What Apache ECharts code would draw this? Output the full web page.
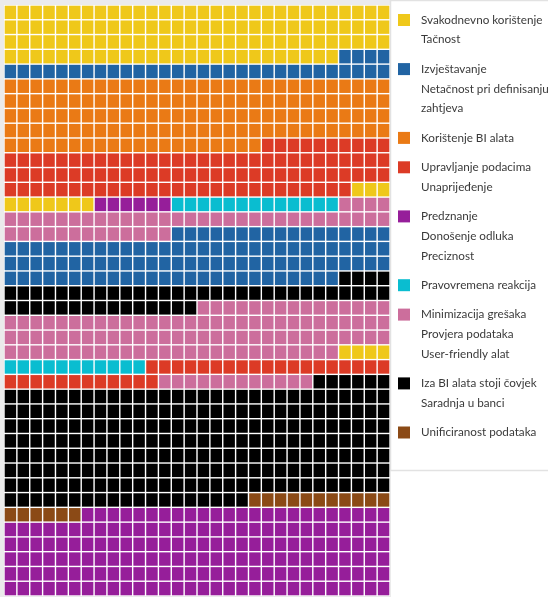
<!DOCTYPE html>
<html>
<head>
<meta charset="utf-8">
<script src="https://cdn.jsdelivr.net/npm/echarts@6/dist/echarts.min.js"></script>
<style>
  html, body { margin: 0; padding: 0; background: #ffffff; }
  #chart { width: 548px; height: 597px; }
</style>
</head>
<body>
<div id="chart"></div>
<script>
// Waffle grid: 30 columns x 40 rows, filled row by row from the top-left.
const COLS = 30;
const ROWS = 40;

// Legend groups (one colour each); several answers share a colour.
const groupNames = [
  ['Svakodnevno korištenje', 'Tačnost'],
  ['Izvještavanje', 'Netačnost pri definisanju', 'zahtjeva'],
  ['Korištenje BI alata'],
  ['Upravljanje podacima', 'Unaprijeđenje'],
  ['Predznanje', 'Donošenje odluka', 'Preciznost'],
  ['Pravovremena reakcija'],
  ['Minimizacija grešaka', 'Provjera podataka', 'User-friendly alat'],
  ['Iza BI alata stoji čovjek', 'Saradnja u banci'],
  ['Unificiranost podataka']
];
const groupColors = ['#efc81a', '#2164a3', '#ea7a15', '#dc3b26', '#961e9a', '#0abdd0', '#cc6e9c', '#000000', '#8b4a16'];

// Consecutive runs of cells in fill order: which group, and how many cells.
const segmentGroup = [0, 1, 2, 3, 0, 4, 5, 6, 1, 7, 6, 0, 5, 3, 6, 7, 8, 4];
const segmentCells = [116, 34, 140, 97, 10, 6, 13, 47, 103, 49, 101, 4, 11, 31, 12, 235, 17, 174];

const colLabels = Array.from({ length: COLS }, (_, i) => String(i));
const rowLabels = Array.from({ length: ROWS }, (_, i) => String(i));

// Lay the runs out on the grid, one list of [col,row] cells per group.
const groupCells = groupColors.map(() => []);
let idx = 0;
segmentCells.forEach((n, s) => {
  for (let k = 0; k < n; k++, idx++) {
    groupCells[segmentGroup[s]].push([idx % COLS, Math.floor(idx / COLS)]);
  }
});

const gridBox = { left: 4, top: 5, width: 386, height: 591 };
const cellW = gridBox.width / COLS;
const cellH = gridBox.height / ROWS;

const chart = echarts.init(document.getElementById('chart'), null, { renderer: 'canvas' });

// Legend panel drawn as graphic elements so multi-line labels stack under one swatch.
const legendGraphics = [];
const lineH = 19.7;
const itemGap = 9.7;
let ly = 20;
groupNames.forEach((lines, g) => {
  legendGraphics.push({
    type: 'rect', shape: { x: 398, y: ly - 6, width: 12, height: 12 },
    style: { fill: groupColors[g] }, z: 10
  });
  lines.forEach((t, i) => {
    legendGraphics.push({
      type: 'text', x: 421, y: ly + i * lineH, z: 10,
      style: { text: t, fill: '#3a3a3a', font: '11.7px Lato, sans-serif', verticalAlign: 'middle', align: 'left' }
    });
  });
  ly += lines.length * lineH + itemGap;
});

chart.setOption({
  animation: false,
  backgroundColor: '#ffffff',
  graphic: [
    { type: 'rect', shape: { x: 0, y: 0, width: 391, height: 597 }, style: { fill: '#ebebeb' }, z: -10 },
    { type: 'rect', shape: { x: gridBox.left, y: gridBox.top, width: gridBox.width, height: gridBox.height }, style: { fill: '#ffffff' }, z: -9 },
    { type: 'rect', shape: { x: 390.5, y: 0.5, width: 160, height: 470 }, style: { fill: '#ffffff', stroke: '#e2e2e2', lineWidth: 1.5 }, z: -8 }
  ].concat(legendGraphics),
  grid: { left: gridBox.left, top: gridBox.top, width: gridBox.width, height: gridBox.height, containLabel: false },
  xAxis: { type: 'category', data: colLabels, show: false, boundaryGap: true },
  yAxis: { type: 'category', data: rowLabels, show: false, inverse: true, boundaryGap: true },
  series: groupNames.map((lines, g) => ({
    name: lines.join(' '),
    type: 'scatter',
    symbol: 'rect',
    symbolSize: [cellW - 1.4, cellH - 1.4],
    itemStyle: { color: groupColors[g], opacity: 1 },
    emphasis: { disabled: true },
    data: groupCells[g]
  }))
});
</script>
</body>
</html>
